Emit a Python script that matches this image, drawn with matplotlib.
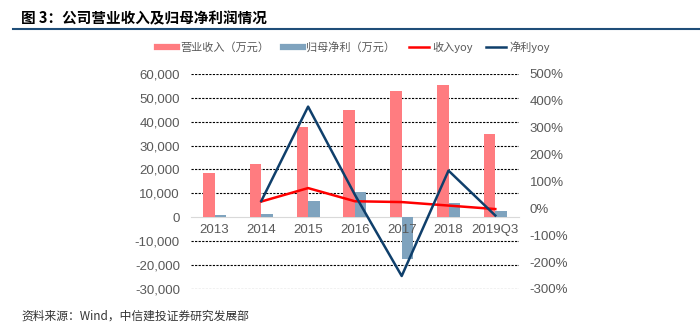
import matplotlib
matplotlib.use('Agg')
import matplotlib.pyplot as plt
import numpy as np
from matplotlib.ticker import FuncFormatter
from matplotlib.lines import Line2D

plt.rcParams['font.family'] = ['Noto Sans CJK SC', 'DejaVu Sans']
plt.rcParams['axes.unicode_minus'] = False

# ── 数据 ─────────────────────────────────────────────
years      = ['2013', '2014', '2015', '2016', '2017', '2018', '2019Q3']
revenue    = [18300, 22100, 37600, 45000, 53000, 55500, 35000]    # 营业收入（万元）
net_profit = [1000, 1500, 6800, 10600, -17500, 5800, 2500]       # 归母净利（万元）
rev_yoy    = [None, 25, 75, 26, 23, 10, -3]                       # 收入yoy (%)
np_yoy     = [None, 27, 378, 50, -252, 140, -27]                  # 净利yoy (%)

C_REV  = '#FF7C80'
C_NP   = '#7FA3BE'
C_RYOY = '#FF0000'
C_NYOY = '#0F3F6B'
GREY   = '#595959'
NUM_FONT = ['Liberation Sans', 'DejaVu Sans']

fig = plt.figure(figsize=(7.0, 3.34), dpi=100)

# 标题 + 下划线
fig.text(0.03, 0.945, '图 3：公司营业收入及归母净利润情况', fontsize=10.5,
         fontweight='bold', ha='left', va='center', color='black')
fig.add_artist(Line2D([0.018, 1.0], [0.912, 0.912], color='#1F4E79', lw=1.5,
                      transform=fig.transFigure))

ax = fig.add_axes([0.273, 0.135, 0.468, 0.644])
x = np.arange(len(years))
w = 0.245
ax.bar(x - w / 2, revenue, w, color=C_REV, zorder=2)
ax.bar(x + w / 2, net_profit, w, color=C_NP, zorder=2)

ax.set_xlim(-0.5, len(years) - 0.5)
ax.set_ylim(-30000, 60000)
ax.set_yticks(np.arange(-30000, 60001, 10000))
ax.yaxis.set_major_formatter(FuncFormatter(lambda v, p: f'{int(v):,}'))
for t in ax.get_yticks():
    if t != 0:
        ax.axhline(t, color='black', lw=0.8, ls=(0, (2, 1.2)), zorder=1)

for s in ['top', 'right', 'left']:
    ax.spines[s].set_visible(False)
ax.spines['bottom'].set_position(('data', 0))
ax.spines['bottom'].set_color('#D9D9D9')
ax.spines['bottom'].set_zorder(1.5)
ax.set_axisbelow(False)
ax.set_xticks(x)
ax.set_xticklabels(years)
ax.tick_params(axis='x', length=0, pad=5, labelsize=9.5, colors=GREY)
ax.tick_params(axis='y', length=0, pad=8, labelsize=9.5, colors=GREY)
for lbl in ax.get_xticklabels() + ax.get_yticklabels():
    lbl.set_family(NUM_FONT)

# 右轴：同比
ax2 = ax.twinx()
ax2.set_ylim(-300, 500)
ax2.set_yticks(np.arange(-300, 501, 100))
ax2.yaxis.set_major_formatter(FuncFormatter(lambda v, p: f'{int(v)}%'))
ax2.tick_params(axis='y', length=0, pad=8, labelsize=9.5, colors=GREY)
for lbl in ax2.get_yticklabels():
    lbl.set_family(NUM_FONT)
for s in ax2.spines.values():
    s.set_visible(False)

xl = x[1:]
ax2.plot(xl, rev_yoy[1:], color=C_RYOY, lw=1.8, zorder=3)
ax2.plot(xl, np_yoy[1:], color=C_NYOY, lw=1.8, zorder=3)

handles = [
    Line2D([], [], color=C_REV, lw=4.5),
    Line2D([], [], color=C_NP, lw=4.5),
    Line2D([], [], color=C_RYOY, lw=1.8),
    Line2D([], [], color=C_NYOY, lw=1.8),
]
labels = ['营业收入（万元）', '归母净利（万元）', '收入yoy', '净利yoy']
leg = fig.legend(handles, labels, loc='center', bbox_to_anchor=(0.505, 0.858),
                 ncol=4, frameon=False, fontsize=8, handlelength=1.8,
                 handletextpad=0.3, columnspacing=1.2)
for t in leg.get_texts():
    t.set_color(GREY)

fig.text(0.03, 0.052, '资料来源：Wind，中信建投证券研究发展部', fontsize=8.5,
         ha='left', va='center', color='#333333', style='italic')

fig.savefig('out.png', dpi=100)
